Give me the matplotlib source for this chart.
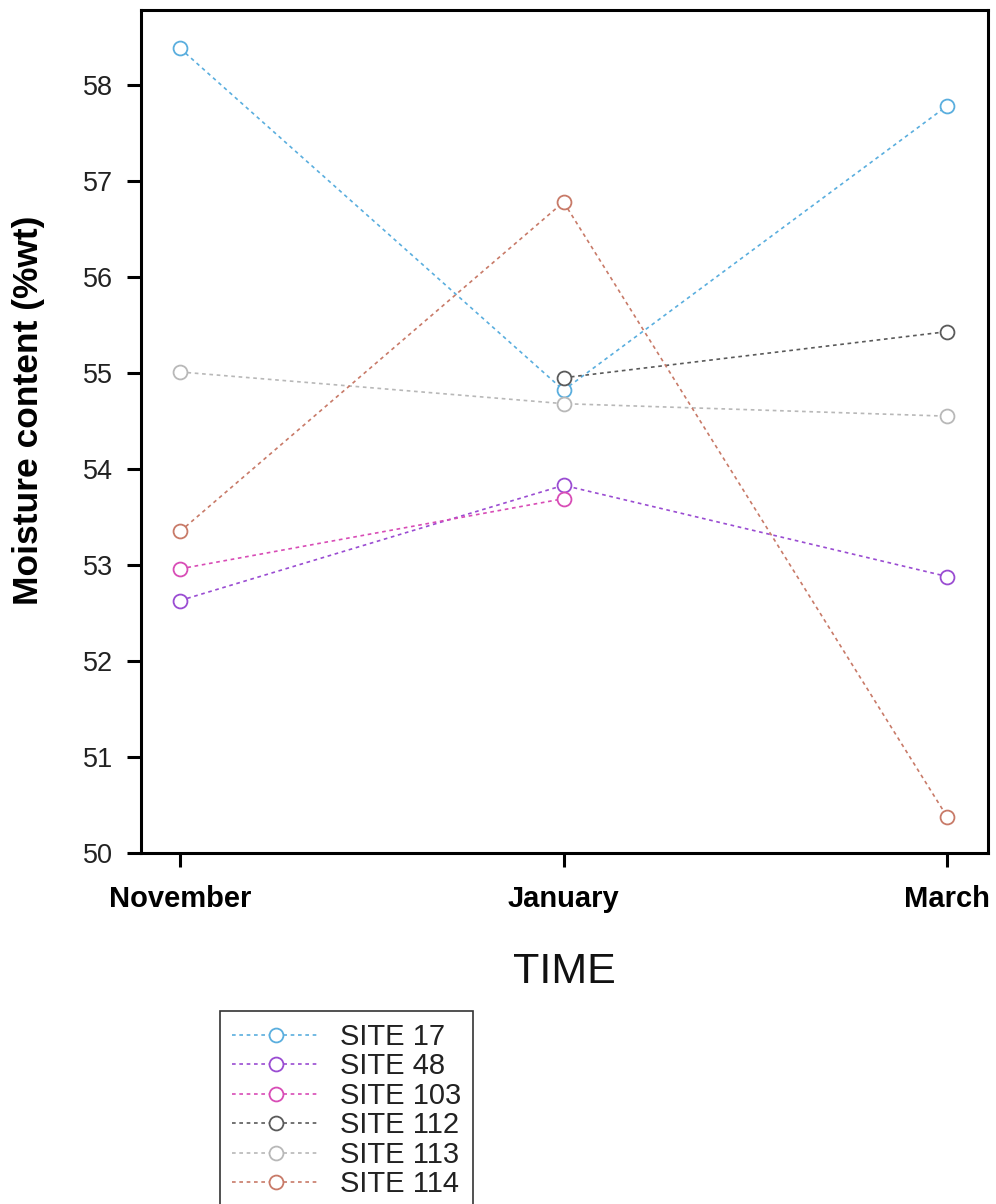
import numpy as np
import matplotlib as mpl
mpl.use('Agg')
import matplotlib.pyplot as plt

plt.rcParams['font.family'] = ['Liberation Sans', 'DejaVu Sans']

months = ['November', 'January', 'March']
sites = ['SITE 17', 'SITE 48', 'SITE 103', 'SITE 112', 'SITE 113', 'SITE 114']

# moisture content (%wt) per site, Nov / Jan / Mar (nan = no reading)
site_17 = [58.38, 54.82, 57.78]
site_48 = [52.63, 53.83, 52.88]
site_103 = [52.96, 53.69, np.nan]
site_112 = [np.nan, 54.95, 55.43]
site_113 = [55.01, 54.68, 54.55]
site_114 = [53.35, 56.78, 50.38]

colors = ['#5aaede', '#9a4cd2', '#d84cb6', '#5a5a5a', '#b8b8b8', '#c87a68']

fig = plt.figure(figsize=(9.96, 12.04), dpi=100)
ax = fig.add_axes([0.1416, 0.2915, 0.8504, 0.7002])

x = np.arange(len(months))
series = [site_17, site_48, site_103, site_112, site_113, site_114]
for vals, name, c in zip(series, sites, colors):
	ax.plot(x, vals, linestyle=(0, (2.2, 2.2)), linewidth=1.2, color=c,
		marker='o', markersize=10, markerfacecolor='white',
		markeredgecolor=c, markeredgewidth=1.3, label=name)

ax.set_xlim(-0.102, 2.107)
ax.set_ylim(50, 58.78)
ax.set_yticks(range(50, 59))
ax.set_xticks(x)
ax.set_xticklabels(months, fontweight='bold', fontsize=21, color='black')

for s in ax.spines.values():
	s.set_linewidth(2.2)
ax.tick_params(axis='both', direction='out', length=10, width=2.2)
ax.tick_params(axis='y', labelsize=19.5, labelcolor='#222222', pad=10)
ax.tick_params(axis='x', pad=13)

ax.set_xlabel('TIME', fontsize=31, color='#111111', labelpad=28)
ax.set_ylabel('Moisture content (%wt)', fontsize=25.5, fontweight='bold')
ax.yaxis.set_label_coords(-0.113, 0.525)

leg = fig.legend(loc='upper left', bbox_to_anchor=(0.221, 0.160), borderaxespad=0,
	fontsize=21, labelspacing=0.05, handlelength=3.0, handletextpad=0.72,
	fancybox=False, framealpha=1, borderpad=0.4)
leg.get_frame().set_edgecolor('#333333')
leg.get_frame().set_linewidth(1.2)
for t in leg.get_texts():
	t.set_color('#222222')

fig.savefig('out.png', dpi=100)
